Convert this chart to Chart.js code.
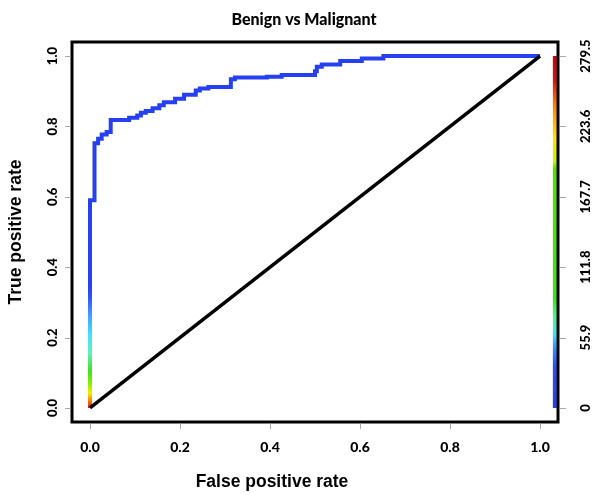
<!DOCTYPE html>
<html>
<head>
<meta charset="utf-8">
<script src="https://cdn.jsdelivr.net/npm/chart.js@4/dist/chart.umd.min.js"></script>
<style>
  html,body{margin:0;padding:0;background:#fff;}
  #wrap{width:601px;height:495px;}
</style>
</head>
<body>
<div id="wrap"><canvas id="roc" width="601" height="495"></canvas></div>
<script>
// -------- DATA ----------
// ROC corners (horizontal step first, then vertical)
const fpr = [0, 0, 0.010, 0.018, 0.026, 0.037, 0.046, 0.087, 0.105, 0.113, 0.124, 0.139, 0.154, 0.164,
             0.189, 0.209, 0.235, 0.244, 0.263, 0.313, 0.322, 0.393, 0.426, 0.500, 0.504, 0.515,
             0.556, 0.604, 0.652, 1.0];
const tpr = [0, 0.590, 0.752, 0.765, 0.777, 0.784, 0.818, 0.825, 0.831, 0.839, 0.844, 0.852, 0.860, 0.869,
             0.879, 0.890, 0.902, 0.908, 0.912, 0.934, 0.939, 0.941, 0.946, 0.957, 0.970, 0.976,
             0.986, 0.993, 1.0, 1.0];
const chanceX = [0, 1];
const chanceY = [0, 1];

const xTicks = [0, 0.2, 0.4, 0.6, 0.8, 1.0];
const yTicks = [0, 0.2, 0.4, 0.6, 0.8, 1.0];
const cutoffTicks  = [0, 55.9, 111.8, 167.7, 223.6, 279.5];
const cutoffLabels = ['0', '55.9', '111.8', '167.7', '223.6', '279.5'];
const cutoffMax = 279.5;

const titleText = 'Benign vs Malignant';
const xTitle = 'False positive rate';
const yTitle = 'True positive rate';

// -------- LAYOUT ----------
const colorbarX = 1.033;
const pad = 0.04;
const blue = '#2440f0';

// gradient along the curve near the origin (high cutoffs are red)
function curveColor(ctx){
  const chart = ctx.chart;
  if (!chart.chartArea) return blue;
  const y = chart.scales.y;
  const g = chart.ctx.createLinearGradient(0, y.getPixelForValue(0), 0, y.getPixelForValue(0.35));
  g.addColorStop(0.00, '#d02010');
  g.addColorStop(0.06, '#ff8000');
  g.addColorStop(0.12, '#f0f000');
  g.addColorStop(0.20, '#80f000');
  g.addColorStop(0.30, '#40e020');
  g.addColorStop(0.45, '#60f0c0');
  g.addColorStop(0.60, '#40e0ff');
  g.addColorStop(0.75, '#40a0ff');
  g.addColorStop(0.90, '#3050ff');
  g.addColorStop(1.00, blue);
  return g;
}

function colorbarColor(ctx){
  const chart = ctx.chart;
  if (!chart.chartArea) return blue;
  const y2 = chart.scales.y2;
  const g = chart.ctx.createLinearGradient(0, y2.getPixelForValue(0), 0, y2.getPixelForValue(cutoffMax));
  g.addColorStop(0.00, '#2a3cf0');
  g.addColorStop(0.12, '#2a50f5');
  g.addColorStop(0.17, '#3090ff');
  g.addColorStop(0.21, '#40e0f0');
  g.addColorStop(0.26, '#50f090');
  g.addColorStop(0.31, '#40e020');
  g.addColorStop(0.68, '#58e000');
  g.addColorStop(0.70, '#c8f000');
  g.addColorStop(0.77, '#ffe000');
  g.addColorStop(0.86, '#ff8000');
  g.addColorStop(0.93, '#e01010');
  g.addColorStop(1.00, '#d00000');
  return g;
}

// -------- FRAME / AXES PLUGIN ----------
const frame = {
  id: 'frame',
  afterDraw(chart){
    const {ctx, chartArea:a, scales:{x, y, y2}} = chart;
    ctx.save();
    // box
    ctx.strokeStyle = '#000';
    ctx.lineWidth = 3;
    ctx.strokeRect(a.left, a.top, a.right - a.left, a.bottom - a.top);

    // tick marks
    ctx.strokeStyle = '#a8a8a8';
    ctx.lineWidth = 1;
    ctx.beginPath();
    xTicks.forEach(v=>{
      const px = Math.round(x.getPixelForValue(v)) + 0.5;
      ctx.moveTo(px, a.bottom + 1.5); ctx.lineTo(px, a.bottom + 7);
    });
    yTicks.forEach(v=>{
      const py = Math.round(y.getPixelForValue(v)) + 0.5;
      ctx.moveTo(a.left - 1.5, py); ctx.lineTo(a.left - 7, py);
    });
    cutoffTicks.forEach(v=>{
      const py = Math.round(y2.getPixelForValue(v)) + 0.5;
      ctx.moveTo(a.right + 1.5, py); ctx.lineTo(a.right + 8, py);
    });
    ctx.stroke();

    // tick labels
    ctx.fillStyle = '#000';
    ctx.font = '900 14px Lato, sans-serif';
    ctx.textAlign = 'center';
    ctx.textBaseline = 'alphabetic';
    xTicks.forEach(v=> ctx.fillText(v.toFixed(1), x.getPixelForValue(v), 452));

    ctx.font = '900 13px Lato, sans-serif';
    yTicks.forEach(v=>{
      ctx.save();
      ctx.translate(57, y.getPixelForValue(v));
      ctx.rotate(-Math.PI/2);
      ctx.fillText(v.toFixed(1), 0, 0);
      ctx.restore();
    });
    cutoffTicks.forEach((v,i)=>{
      ctx.save();
      ctx.translate(590, y2.getPixelForValue(v));
      ctx.rotate(-Math.PI/2);
      ctx.fillText(cutoffLabels[i], 0, 0);
      ctx.restore();
    });

    // titles
    ctx.font = '900 16px Lato, sans-serif';
    ctx.fillText(titleText, 304, 25);

    ctx.font = 'bold 17.5px "Liberation Sans", Arial, sans-serif';
    ctx.fillText(xTitle, 272, 487);
    ctx.save();
    ctx.translate(21, (a.top + a.bottom)/2);
    ctx.rotate(-Math.PI/2);
    ctx.fillText(yTitle, 0, 0);
    ctx.restore();
    ctx.restore();
  }
};

// -------- CHART ----------
new Chart(document.getElementById('roc').getContext('2d'), {
  type: 'scatter',
  data: {
    datasets: [
      {
        label: 'chance',
        data: chanceX.map((v,i)=>({x:v, y:chanceY[i]})),
        showLine: true,
        borderColor: '#000',
        borderWidth: 3.5,
        pointRadius: 0,
        order: 0
      },
      {
        label: 'ROC',
        data: fpr.map((v,i)=>({x:v, y:tpr[i]})),
        showLine: true,
        stepped: true,
        borderColor: curveColor,
        borderWidth: 4,
        pointRadius: 0,
        order: 1
      },
      {
        label: 'cutoff',
        data: [{x:colorbarX, y:0}, {x:colorbarX, y:cutoffMax}],
        yAxisID: 'y2',
        showLine: true,
        borderColor: colorbarColor,
        borderWidth: 4,
        borderCapStyle: 'butt',
        pointRadius: 0,
        order: 2
      }
    ]
  },
  options: {
    responsive: false,
    animation: false,
    layout: {padding: {left:72, top:42, right:43, bottom:73}},
    plugins: {legend:{display:false}, tooltip:{enabled:false}},
    scales: {
      x:  {type:'linear', display:false, min:-pad, max:1+pad},
      y:  {type:'linear', display:false, min:-pad, max:1+pad},
      y2: {type:'linear', display:false, position:'right', min:-pad*cutoffMax, max:(1+pad)*cutoffMax}
    }
  },
  plugins: [frame]
});
</script>
</body>
</html>
